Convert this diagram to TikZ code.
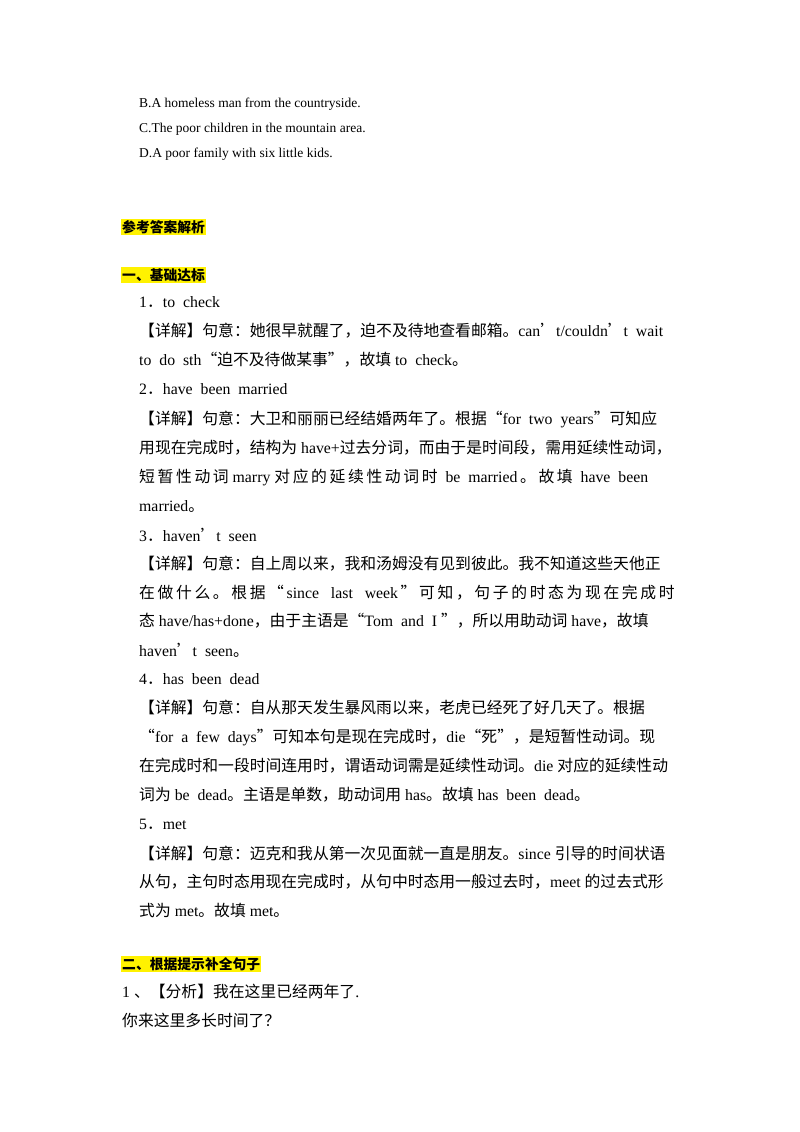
\documentclass[tikz,border=0pt]{standalone}
\usepackage{fontspec}
\setmainfont{Liberation Serif}
\newfontfamily\cjk{Noto Sans CJK SC}
\XeTeXinterchartokenstate=1
\newXeTeXintercharclass\cjkclass
\count255="4E00
\loop\ifnum\count255<"A000 \XeTeXcharclass\count255=\cjkclass \advance\count255 by 1 \repeat
\count255="3000
\loop\ifnum\count255<"3040 \XeTeXcharclass\count255=\cjkclass \advance\count255 by 1 \repeat
\count255="FF00
\loop\ifnum\count255<"FFF0 \XeTeXcharclass\count255=\cjkclass \advance\count255 by 1 \repeat
\XeTeXcharclass"201C=\cjkclass
\XeTeXcharclass"201D=\cjkclass
\XeTeXcharclass"2019=\cjkclass
\XeTeXinterchartoks 0 \cjkclass = {\cjk}
\XeTeXinterchartoks 4095 \cjkclass = {\cjk}
\XeTeXinterchartoks \cjkclass 0 = {\rmfamily}
\XeTeXinterchartoks \cjkclass 4095 = {\rmfamily}
\begin{document}
\begin{tikzpicture}[x=1pt,y=-1pt,
 ln/.style={anchor=west,inner sep=0pt,font=\fontsize{15.8}{17}\selectfont},
 sm/.style={anchor=west,inner sep=0pt,font=\fontsize{13.5}{15}\selectfont},
 hd/.style={anchor=west,inner sep=1pt,fill=yellow,font=\fontsize{13.8}{15}\selectfont\bfseries}]
\useasboundingbox[fill=white] (0,0) rectangle (800,1132);
\node[sm] (b) at (139,104) {B.A homeless man from the countryside.};
\node[sm] (c) at (139,129) {C.The poor children in the mountain area.};
\node[sm] (d) at (139,154) {D.A poor family with six little kids.};
\node[hd] (h0) at (121,227) {参考答案解析};
\node[hd] (h1) at (121,275) {一、基础达标};
\node[ln] (l1) at (139,302) {1．to\ \ check};
\node[ln] (l2) at (139,331) {【详解】句意：她很早就醒了，迫不及待地查看邮箱。can’t/couldn’t\ \ wait};
\node[ln] (l3) at (139,360) {to\ \ do\ \ sth“迫不及待做某事”，故填 to\ \ check。};
\node[ln] (l4) at (139,389) {2．have\ \ been\ \ married};
\node[ln] (l5) at (139,419) {【详解】句意：大卫和丽丽已经结婚两年了。根据“for\ \ two\ \ years”可知应};
\node[ln] (l6) at (139,448) {用现在完成时，结构为 have+过去分词，而由于是时间段，需用延续性动词，};
\node[ln] (l7) at (139,477) {短\,暂\,性\,动\,词\ marry\ 对\,应\,的\,延\,续\,性\,动\,词\,时\ \ be\ \ married\,。\,故\,填\ \ have\ \ been};
\node[ln] (l8) at (139,506) {married。};
\node[ln] (l9) at (139,535) {3．haven’t\ \ seen};
\node[ln] (l10) at (139,564) {【详解】句意：自上周以来，我和汤姆没有见到彼此。我不知道这些天他正};
\node[ln] (l11) at (139,593) {在\,做\,什\,么\,。\,根\,据\,“\,since\ \ \ last\ \ \ week\,”\,可\,知\,，\,句\,子\,的\,时\,态\,为\,现\,在\,完\,成\,时};
\node[ln] (l12) at (139,621) {态 have/has+done，由于主语是“Tom\ \ and\ \ I\ ”，所以用助动词 have，故填};
\node[ln] (l13) at (139,650) {haven’t\ \ seen。};
\node[ln] (l14) at (139,679) {4．has\ \ been\ \ dead};
\node[ln] (l15) at (139,708) {【详解】句意：自从那天发生暴风雨以来，老虎已经死了好几天了。根据};
\node[ln] (l16) at (139,737) {“for\ \ a\ \ few\ \ days”可知本句是现在完成时，die“死”，是短暂性动词。现};
\node[ln] (l17) at (139,766) {在完成时和一段时间连用时，谓语动词需是延续性动词。die 对应的延续性动};
\node[ln] (l18) at (139,795) {词为 be\ \ dead。主语是单数，助动词用 has。故填 has\ \ been\ \ dead。};
\node[ln] (l19) at (139,824) {5．met};
\node[ln] (l20) at (139,853) {【详解】句意：迈克和我从第一次见面就一直是朋友。since 引导的时间状语};
\node[ln] (l21) at (139,882) {从句，主句时态用现在完成时，从句中时态用一般过去时，meet 的过去式形};
\node[ln] (l22) at (139,911) {式为 met。故填 met。};
\node[hd] (h2) at (121,964) {二、根据提示补全句子};
\node[ln] (l23) at (122,991) {1 、【分析】我在这里已经两年了.};
\node[ln] (l24) at (122,1020) {你来这里多长时间了？};
\end{tikzpicture}
\end{document}
